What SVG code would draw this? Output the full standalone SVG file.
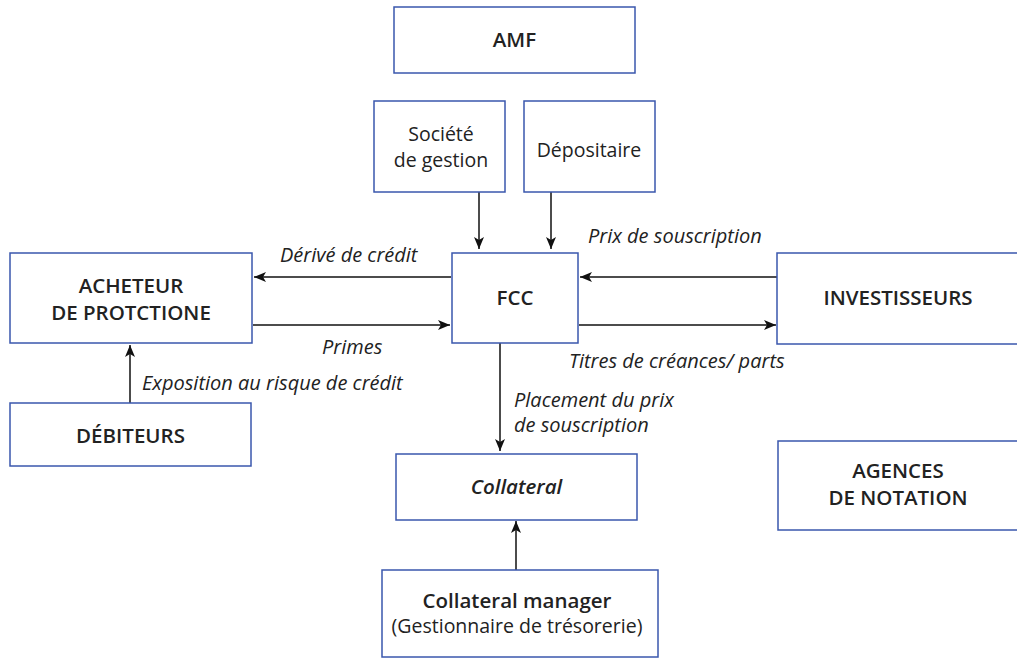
<svg xmlns="http://www.w3.org/2000/svg" width="1017" height="659" viewBox="0 0 1017 659">
<style>
.box{fill:#fff;stroke:#3a57ad;stroke-width:1.5}
.t{font-family:"Open Sans","Noto Sans",sans-serif;fill:#222;font-size:19.5px;text-anchor:middle}
.b{font-weight:600;font-size:20.5px}
.lbl{font-family:"Open Sans","Noto Sans",sans-serif;fill:#222;font-size:20px;font-style:italic}
.c{stroke:#111;stroke-width:1.5;fill:none;marker-end:url(#ah)}
</style>
<defs>
<marker id="ah" viewBox="0 0 12 10" refX="12" refY="5" markerWidth="12" markerHeight="10" markerUnits="userSpaceOnUse" orient="auto">
<path d="M0,0 L12,5 L0,10 L3,5 Z" fill="#111"/>
</marker>
</defs>
<rect width="1017" height="659" fill="#fff"/>
<g id="connectors">
<line class="c" x1="479" y1="192" x2="479" y2="249"/>
<line class="c" x1="551" y1="192" x2="551" y2="249"/>
<line class="c" x1="451" y1="277" x2="254" y2="277"/>
<line class="c" x1="253" y1="325" x2="450" y2="325"/>
<line class="c" x1="777" y1="277" x2="580" y2="277"/>
<line class="c" x1="579" y1="325" x2="776" y2="325"/>
<line class="c" x1="130" y1="403" x2="130" y2="345"/>
<line class="c" x1="500" y1="343" x2="500" y2="451"/>
<line class="c" x1="516" y1="570" x2="516" y2="521"/>
<text class="lbl" x="280" y="262">Dérivé de crédit</text>
<text class="lbl" x="322" y="354">Primes</text>
<text class="lbl" x="142" y="390">Exposition au risque de crédit</text>
<text class="lbl" x="588" y="243">Prix de souscription</text>
<text class="lbl" x="569" y="368">Titres de créances/ parts</text>
<text class="lbl" x="514" y="407">Placement du prix</text>
<text class="lbl" x="514" y="432">de souscription</text>
</g>
<g id="amf"><rect class="box" x="394" y="7" width="241" height="66"/><text class="t b" x="514.5" y="47">AMF</text></g>
<g id="societe"><rect class="box" x="374" y="101" width="131" height="91"/><text class="t" x="441" y="141">Société</text><text class="t" x="441" y="167">de gestion</text></g>
<g id="depositaire"><rect class="box" x="524" y="101" width="131" height="91"/><text class="t" x="589" y="157">Dépositaire</text></g>
<g id="acheteur"><rect class="box" x="10" y="253" width="242" height="90"/><text class="t b" x="131" y="293">ACHETEUR</text><text class="t b" x="131" y="320">DE PROTCTIONE</text></g>
<g id="fcc"><rect class="box" x="452" y="253" width="126" height="90"/><text class="t b" x="515" y="305">FCC</text></g>
<g id="investisseurs"><rect class="box" x="777" y="253" width="250" height="91"/><text class="t b" x="898" y="305">INVESTISSEURS</text></g>
<g id="debiteurs"><rect class="box" x="10" y="403" width="241" height="63"/><text class="t b" x="130.5" y="443">DÉBITEURS</text></g>
<g id="collateral"><rect class="box" x="396" y="454" width="241" height="66"/><text class="t b" x="516.5" y="494" font-style="italic">Collateral</text></g>
<g id="agences"><rect class="box" x="778" y="441" width="250" height="89"/><text class="t b" x="898" y="478">AGENCES</text><text class="t b" x="898" y="505">DE NOTATION</text></g>
<g id="manager"><rect class="box" x="382" y="570" width="276" height="87"/><text class="t b" x="517" y="608">Collateral manager</text><text class="t" x="517" y="633">(Gestionnaire de trésorerie)</text></g>
</svg>
